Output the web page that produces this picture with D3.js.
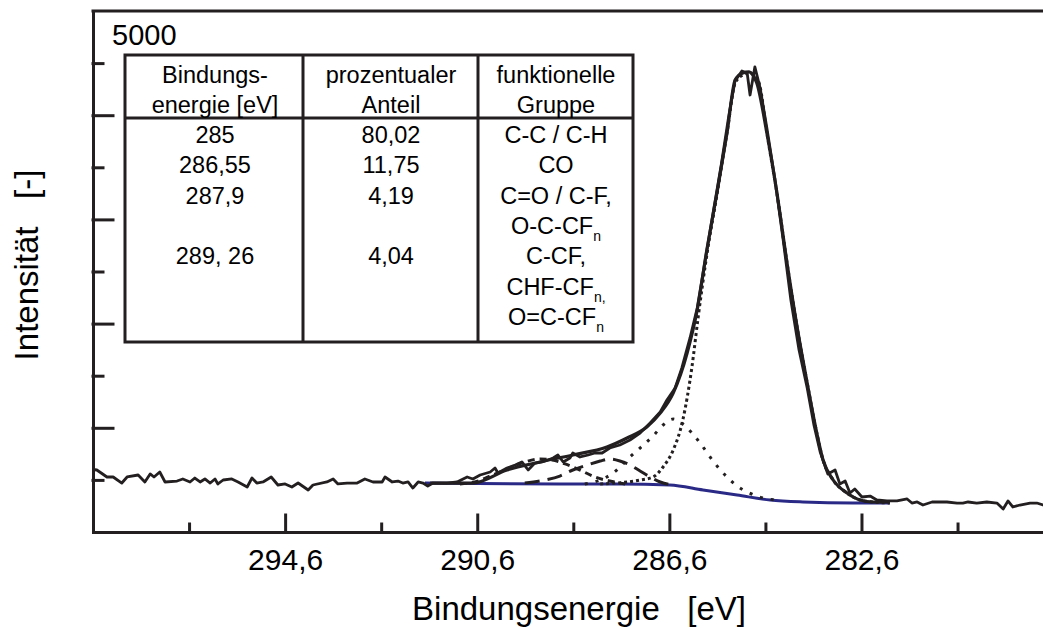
<!DOCTYPE html>
<html>
<head>
<meta charset="utf-8">
<script src="https://cdn.jsdelivr.net/npm/d3@7"></script>
<style>
	body { margin: 0; background: #fff; }
	svg { display: block; font-family: 'Liberation Sans', Arial, sans-serif; }
	text { white-space: pre; }
</style>
</head>
<body>
<svg id="xps"></svg>
<script>
// C1s spectrum: binding energy [eV], intensity [counts]
const rawSpectrum = [
	[298.6, 600], [298.52, 595], [298.31, 528], [298.18, 528], [298.0, 470], [297.89, 528], [297.66, 547],
	[297.52, 480], [297.41, 557], [297.33, 528], [297.21, 576], [297.1, 480], [296.85, 489], [296.73, 509],
	[296.58, 480], [296.48, 518], [296.37, 480], [296.27, 509], [296.16, 470], [296.06, 509], [296.0, 461],
	[295.89, 499], [295.71, 509], [295.58, 480], [295.39, 432], [295.29, 518], [295.19, 470], [295.06, 480],
	[294.89, 528], [294.75, 451], [294.6, 461], [294.46, 432], [294.33, 470], [294.12, 403], [294.02, 451],
	[293.73, 480], [293.6, 509], [293.5, 461], [293.31, 470], [293.1, 470], [292.94, 509], [292.77, 480],
	[292.58, 480], [292.52, 528], [292.37, 480], [292.25, 489], [292.15, 470], [292.04, 480], [291.94, 422],
	[291.83, 480], [291.73, 470], [291.63, 441], [291.52, 470], [291.23, 470], [291.02, 480], [290.81, 528],
	[290.69, 509], [290.54, 547], [290.33, 576], [290.23, 614], [290.17, 566], [289.98, 614], [289.81, 643],
	[289.67, 672], [289.54, 595], [289.4, 662], [289.25, 672], [289.13, 691], [289.02, 710], [288.92, 739],
	[288.81, 672], [288.67, 710], [288.61, 758], [288.46, 720], [288.29, 739], [288.15, 758], [288.0, 758],
	[287.84, 806], [287.63, 835], [287.42, 883], [287.21, 950], [287.0, 1046], [286.79, 1152], [286.65, 1267],
	[286.48, 1382], [286.34, 1574], [286.17, 1862], [286.02, 2150], [285.86, 2591], [285.69, 3061],
	[285.52, 3522], [285.36, 4002], [285.23, 4338], [285.19, 4357], [285.09, 4424], [284.98, 4405],
	[284.92, 4194], [284.82, 4463], [284.71, 4261], [284.57, 3877], [284.4, 3378], [284.23, 2802],
	[284.07, 2227], [283.9, 1747], [283.73, 1382], [283.59, 1027], [283.46, 768], [283.3, 557], [283.15, 595],
	[283.05, 461], [282.94, 489], [282.84, 374], [282.74, 413], [282.59, 336], [282.42, 345], [282.28, 307],
	[282.07, 298], [281.86, 298], [281.65, 317], [281.55, 278], [281.44, 288], [281.32, 259], [281.13, 288],
	[280.97, 288], [280.82, 288], [280.61, 278], [280.49, 278], [280.38, 288], [280.2, 278], [279.99, 288],
	[279.78, 278], [279.65, 221], [279.55, 298], [279.45, 240], [279.3, 259], [279.09, 278], [278.95, 278],
	[278.82, 259], [278.6, 270]
]

const envelopeFit = [
	[291.58, 470], [290.69, 470], [289.98, 595], [289.29, 672], [288.61, 739], [287.9, 816], [287.48, 902],
	[287.07, 1008], [286.79, 1142], [286.52, 1334], [286.23, 1718], [286.02, 2131], [285.82, 2706],
	[285.61, 3253], [285.4, 3829], [285.23, 4338], [285.07, 4405], [284.94, 4415], [284.86, 4386],
	[284.78, 4309], [284.57, 3829], [284.36, 3253], [284.15, 2582], [283.94, 1967], [283.73, 1430],
	[283.53, 950], [283.4, 691], [283.19, 499], [282.9, 374], [282.63, 307], [282.36, 288], [282.01, 288]
]

const backgroundFit = [
	[291.69, 470], [288.88, 461], [287.63, 461], [286.59, 451], [285.9, 403], [285.19, 355], [284.5, 307],
	[283.82, 288], [282.78, 278], [282.01, 278]
]

const peakCC = [
	[288.04, 461], [287.21, 499], [286.94, 528], [286.73, 624], [286.52, 787], [286.32, 1075], [286.13, 1584],
	[286.0, 2063], [285.82, 2658], [285.61, 3234], [285.4, 3829], [285.23, 4309], [285.07, 4386],
	[284.94, 4405], [284.82, 4376], [284.72, 4290], [284.57, 3829], [284.36, 3253], [284.15, 2582],
	[283.94, 1967], [283.73, 1430], [283.53, 950], [283.4, 691], [283.19, 499], [282.9, 374], [282.63, 307],
	[282.36, 288], [282.01, 278]
]

const peakCO = [
	[288.36, 461], [288.04, 499], [287.77, 566], [287.42, 720], [287.21, 806], [286.94, 921], [286.73, 1027],
	[286.52, 1084], [286.32, 1036], [286.13, 950], [285.96, 854], [285.69, 681], [285.4, 528], [285.19, 441],
	[284.98, 384], [284.72, 336], [284.4, 307]
]

const peakCO2 = [
	[289.61, 470], [289.19, 499], [288.88, 537], [288.61, 595], [288.31, 643], [288.04, 681], [287.84, 700],
	[287.63, 681], [287.42, 643], [287.21, 585], [287.0, 528], [286.79, 480], [286.54, 451]
]

const peakCF = [
	[290.96, 461], [290.65, 480], [290.33, 537], [289.98, 605], [289.61, 672], [289.29, 700], [289.04, 691],
	[288.77, 653], [288.46, 595], [288.15, 528], [287.84, 489], [287.52, 461]
]

const xMajorTicks = [294.6, 290.6, 286.6, 282.6]
const xMinorTicks = [296.6, 292.6, 288.6, 284.6, 280.6]
const yMajorTicks = [1000, 2000, 3000, 4000]
const yMinorTicks = [500, 1500, 2500, 3500, 4500]
const yTopLabel = 5000

const tableHeader = [
	['Bindungs-', 'energie [eV]'],
	['prozentualer', 'Anteil'],
	['funktionelle', 'Gruppe']
]
const peakEnergies = ['285', '286,55', '287,9', '289, 26']
const peakShares = ['80,02', '11,75', '4,19', '4,04']
const peakGroups = [
	['C-C / C-H'],
	['CO'],
	['C=O / C-F,', 'O-C-CF_n'],
	['C-CF,', 'CHF-CF_n,', 'O=C-CF_n']
]

const width = 1043
const height = 628
const ink = '#231f20'

const xScale = d3.scaleLinear().domain([298.6, 278.6]).range([93, 1053.6])
const yScale = d3.scaleLinear().domain([0, 5000]).range([532, 11])

const svg = d3.select('#xps').attr('width', width).attr('height', height)

svg.append('clipPath').attr('id', 'plotClip')
	.append('rect')
	.attr('x', 93).attr('y', 11).attr('width', width - 93).attr('height', 521)

const line = d3.line()
	.x(d => xScale(d[0]))
	.y(d => yScale(d[1]))

const smooth = d3.line()
	.x(d => xScale(d[0]))
	.y(d => yScale(d[1]))
	.curve(d3.curveMonotoneX)

const plot = svg.append('g').attr('clip-path', 'url(#plotClip)')

plot.append('path').datum(backgroundFit)
	.attr('fill', 'none').attr('stroke', '#2a2a86').attr('stroke-width', 3)
	.attr('d', smooth)

const components = [
	{ data: peakCF, dash: '7,5', w: 3 },
	{ data: peakCO2, dash: '15,8', w: 3 },
	{ data: peakCO, dash: '3,8', w: 3 },
	{ data: peakCC, dash: '3,3', w: 3 }
]

components.forEach(c => {
	plot.append('path').datum(c.data)
		.attr('fill', 'none').attr('stroke', ink)
		.attr('stroke-width', c.w).attr('stroke-dasharray', c.dash)
		.attr('d', smooth)
})

plot.append('path').datum(envelopeFit)
	.attr('fill', 'none').attr('stroke', ink).attr('stroke-width', 3.2)
	.attr('d', smooth)

plot.append('path').datum(rawSpectrum)
	.attr('fill', 'none').attr('stroke', ink).attr('stroke-width', 2.8)
	.attr('stroke-linejoin', 'round')
	.attr('d', line)

// axes
const deFormat = d3.formatLocale({ decimal: ',', thousands: '.', grouping: [3], currency: ['', ' €'] }).format('.1f')

const xMajor = svg.append('g')
	.attr('transform', `translate(0,${yScale(0)})`)
	.call(d3.axisBottom(xScale).tickValues(xMajorTicks).tickSizeInner(-17).tickSizeOuter(0)
		.tickPadding(17).tickFormat(deFormat))
xMajor.attr('font-size', 30).attr('font-family', null)
xMajor.selectAll('text').attr('fill', '#000')

svg.append('g')
	.attr('transform', `translate(0,${yScale(0)})`)
	.call(d3.axisBottom(xScale).tickValues(xMinorTicks).tickSizeInner(-8).tickSizeOuter(0).tickFormat(''))
	.call(g => g.select('.domain').remove())

svg.append('g')
	.attr('transform', `translate(${xScale(298.6)},0)`)
	.call(d3.axisLeft(yScale).tickValues(yMajorTicks).tickSizeInner(-20).tickSizeOuter(0).tickFormat(''))

svg.append('g')
	.attr('transform', `translate(${xScale(298.6)},0)`)
	.call(d3.axisLeft(yScale).tickValues(yMinorTicks).tickSizeInner(-10).tickSizeOuter(0).tickFormat(''))
	.call(g => g.select('.domain').remove())

svg.append('line')
	.attr('x1', xScale(298.6)).attr('x2', width)
	.attr('y1', yScale(5000)).attr('y2', yScale(5000))

svg.selectAll('.domain, .tick line, line')
	.attr('stroke', ink).attr('stroke-width', 3).attr('stroke-linecap', 'square')

svg.append('text')
	.attr('x', xScale(298.6) + 19).attr('y', yScale(yTopLabel) + 34)
	.attr('font-size', 29)
	.text(yTopLabel)

svg.append('text')
	.attr('x', 579).attr('y', 620)
	.attr('text-anchor', 'middle').attr('font-size', 33)
	.text('Bindungsenergie   [eV]')

svg.append('text')
	.attr('transform', 'translate(38,265) rotate(-90)')
	.attr('text-anchor', 'middle').attr('font-size', 33)
	.text('Intensität   [-]')

// table
const table = svg.append('g')
const colX = [125, 303, 478, 633]
const colMid = [215, 391, 556]

table.append('rect')
	.attr('x', colX[0]).attr('y', 55).attr('width', colX[3] - colX[0]).attr('height', 287)
	.attr('fill', '#fff').attr('stroke', ink).attr('stroke-width', 3)
colX.slice(1, 3).forEach(x => {
	table.append('line').attr('x1', x).attr('x2', x).attr('y1', 55).attr('y2', 342)
		.attr('stroke', ink).attr('stroke-width', 3)
})
table.append('line').attr('x1', colX[0]).attr('x2', colX[3]).attr('y1', 118).attr('y2', 118)
	.attr('stroke', ink).attr('stroke-width', 3)

function cellText(x, y, str) {
	const t = table.append('text').attr('x', x).attr('y', y)
		.attr('text-anchor', 'middle').attr('font-size', 23.5).attr('fill', '#000')
	const parts = str.split('_')
	t.append('tspan').text(parts[0])
	if (parts.length > 1) {
		t.append('tspan').attr('font-size', 14).attr('dy', 7).attr('fill', '#000').text(parts[1])
	}
}

tableHeader.forEach((lines, i) => {
	lines.forEach((s, j) => cellText(colMid[i], 83 + j * 30, s))
})

let row = 0
peakGroups.forEach((group, i) => {
	const y0 = 143 + row * 30.3
	cellText(colMid[0], y0, peakEnergies[i])
	cellText(colMid[1], y0, peakShares[i])
	group.forEach((s, j) => cellText(colMid[2], 143 + (row + j) * 30.3, s))
	row += group.length
})
</script>
</body>
</html>
